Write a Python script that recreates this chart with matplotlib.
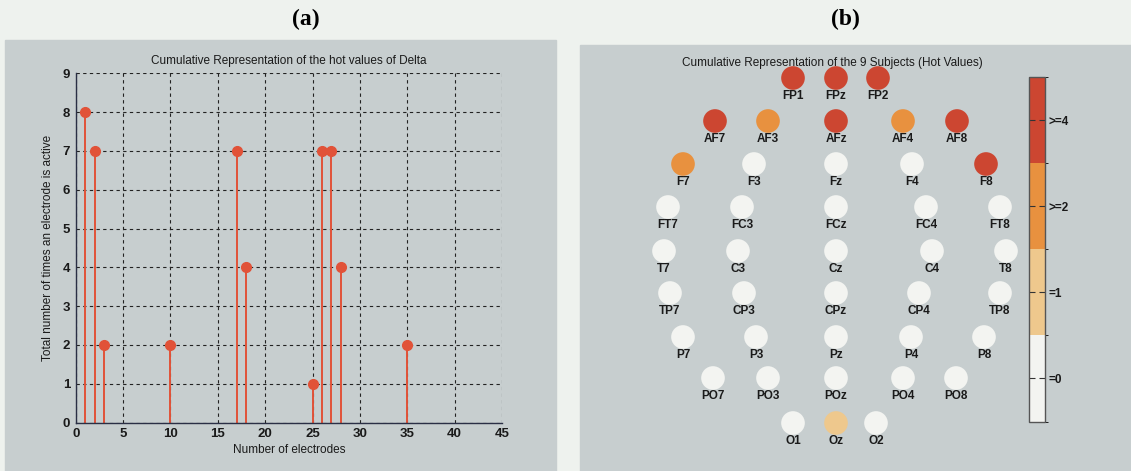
import matplotlib
matplotlib.use("Agg")
import matplotlib.pyplot as plt
import numpy as np
from matplotlib.patches import Rectangle
from matplotlib.colors import ListedColormap, BoundaryNorm
from matplotlib.cm import ScalarMappable

# ---- data: cumulative hot-value counts per electrode (Delta band) ----
electrode_index = [1, 2, 3, 10, 17, 18, 25, 26, 27, 28, 35]
active_counts = [8, 7, 2, 2, 7, 4, 1, 7, 7, 4, 2]

# ---- data: scalp map, electrode names, layout positions and counts ----
names = ["FP1", "FPz", "FP2",
         "AF7", "AF3", "AFz", "AF4", "AF8",
         "F7", "F3", "Fz", "F4", "F8",
         "FT7", "FC3", "FCz", "FC4", "FT8",
         "T7", "C3", "Cz", "C4", "T8",
         "TP7", "CP3", "CPz", "CP4", "TP8",
         "P7", "P3", "Pz", "P4", "P8",
         "PO7", "PO3", "POz", "PO4", "PO8",
         "O1", "Oz", "O2"]
pos_x = [-43, 0, 42,
         -121, -68, 0, 67, 121,
         -153, -82, 0, 76, 150,
         -168, -94, 0, 90, 164,
         -172, -98, 0, 96, 170,
         -166, -92, 0, 83, 164,
         -153, -80, 0, 75, 148,
         -123, -68, 0, 67, 120,
         -43, 0, 40]
pos_y = [173, 173, 173,
         130, 130, 130, 130, 130,
         87, 87, 87, 87, 87,
         44, 44, 44, 44, 44,
         0, 0, 0, 0, 0,
         -42, -42, -42, -42, -42,
         -86, -86, -86, -86, -86,
         -127, -127, -127, -127, -127,
         -172, -172, -172]
subject_counts = [8, 7, 7,
                  7, 2, 7, 2, 4,
                  2, 0, 0, 0, 4,
                  0, 0, 0, 0, 0,
                  0, 0, 0, 0, 0,
                  0, 0, 0, 0, 0,
                  0, 0, 0, 0, 0,
                  0, 0, 0, 0, 0,
                  0, 1, 0]
level_bounds = [0, 1, 2, 4, 9]
level_labels = ["=0", "=1", ">=2", ">=4"]
level_colors = ["#f3f4f1", "#eec88d", "#e8913f", "#cc4631"]

W, H = 1131, 471
fig = plt.figure(figsize=(W / 100, H / 100), dpi=100)
fig.patch.set_facecolor("#eef2ee")


def fx(px):
    return px / W


def fy(py):
    return 1 - py / H


panel_color = "#c7cecf"
fig.patches.append(Rectangle((fx(5), fy(471)), fx(556) - fx(5), fy(40) - fy(471),
                             transform=fig.transFigure, color=panel_color, zorder=-5))
fig.patches.append(Rectangle((fx(580), fy(471)), fx(1131) - fx(580), fy(45) - fy(471),
                             transform=fig.transFigure, color=panel_color, zorder=-5))

fig.text(fx(306), fy(19), "(a)", family="Liberation Serif", weight="bold",
         fontsize=17, ha="center", va="center")
fig.text(fx(845), fy(19), "(b)", family="Liberation Serif", weight="bold",
         fontsize=17, ha="center", va="center")

font = "Liberation Sans"
text_color = "#1a1a1a"

# ---- (a) stem plot ----
ax = fig.add_axes([fx(75.7), fy(422.5), fx(502) - fx(75.7), fy(73.3) - fy(422.5)])
ax.set_facecolor("none")
stem_color = "#e15238"
markers, stems, base = ax.stem(electrode_index, active_counts, basefmt=" ")
plt.setp(stems, color=stem_color, linewidth=1.4)
plt.setp(markers, color=stem_color, markersize=7)
ax.set_xlim(0, 45)
ax.set_ylim(0, 9)
ax.set_xticks(np.arange(0, 46, 5))
ax.set_yticks(np.arange(0, 10, 1))
ax.grid(True, color="#222222", linestyle=(0, (3, 3)), linewidth=0.8)
ax.set_axisbelow(True)
for s in ["top", "right"]:
    ax.spines[s].set_visible(False)
for s in ["left", "bottom"]:
    ax.spines[s].set_color("#2a2f45")
    ax.spines[s].set_linewidth(1.0)
ax.tick_params(length=0, labelsize=9.5, colors=text_color, pad=4)
for lab in ax.get_xticklabels() + ax.get_yticklabels():
    lab.set_family(font)
    lab.set_weight("bold")
ax.set_title("Cumulative Representation of the hot values of Delta",
             family=font, fontsize=8.5, color=text_color, pad=7)
ax.set_xlabel("Number of electrodes", family=font, fontsize=8.5,
              color=text_color, labelpad=3)
ax.set_ylabel("Total number of times an electrode is active", family=font,
              fontsize=8.5, color=text_color, labelpad=6)

# ---- (b) scalp map ----
cmap = ListedColormap(level_colors)
norm = BoundaryNorm(level_bounds, cmap.N)
mx0, mx1, my0, my1 = 590, 1022, 55, 465
hm = fig.add_axes([fx(mx0), fy(my1), fx(mx1) - fx(mx0), fy(my0) - fy(my1)])
hm.set_xlim(mx0 - 836, mx1 - 836)
hm.set_ylim(251 - my1, 251 - my0)
hm.axis("off")
hm.scatter(pos_x, pos_y, c=subject_counts, cmap=cmap, norm=norm,
           s=290, linewidths=0, zorder=2)
for n, x, y in zip(names, pos_x, pos_y):
    hm.annotate(n, (x, y), xytext=(0, -18), textcoords="offset pixels",
                ha="center", va="center", family=font, fontsize=8.5,
                weight="bold", color=text_color, zorder=3)
fig.text(fx(832), fy(63), "Cumulative Representation of the 9 Subjects (Hot Values)",
         family=font, fontsize=8.5, color=text_color, ha="center", va="center")

cax = fig.add_axes([fx(1028.5), fy(421.5), fx(1044.5) - fx(1028.5), fy(77) - fy(421.5)])
cb = fig.colorbar(ScalarMappable(norm=norm, cmap=cmap), cax=cax,
                  ticks=[0.5, 1.5, 3, 6.5])
cb.set_ticklabels(level_labels)
cb.outline.set_edgecolor("#555555")
cb.outline.set_linewidth(1.0)
cax.tick_params(direction="in", left=True, right=True, length=4, width=0.8,
                color="#333333", labelsize=8.5, labelcolor=text_color, pad=3)
for lab in cax.get_yticklabels():
    lab.set_family(font)
    lab.set_weight("bold")

fig.savefig("out.png", dpi=100, facecolor=fig.get_facecolor())
